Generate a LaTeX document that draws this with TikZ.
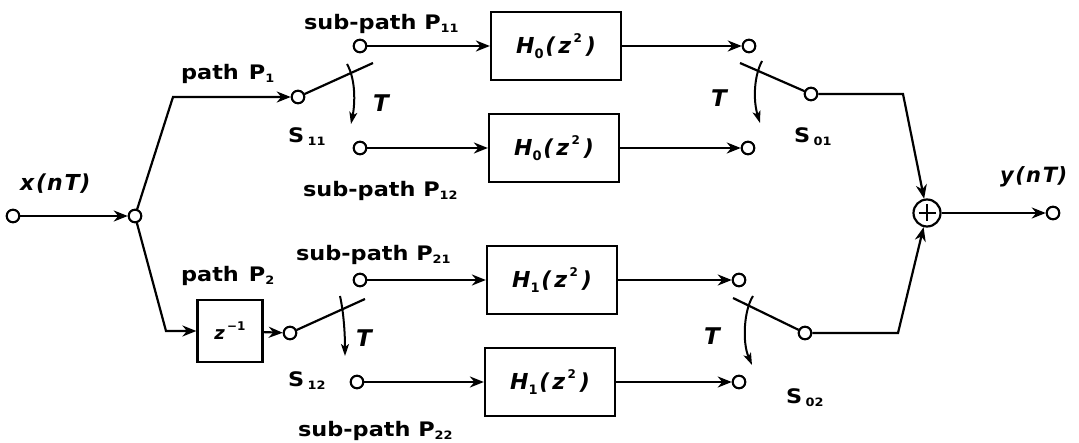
\documentclass[tikz,border=0pt]{standalone}
\usepackage{fontspec}
\usepackage{graphicx}
\newfontfamily\labfont{DejaVu Sans Bold}
\newfontfamily\obl{DejaVu Sans Bold Oblique}
\newfontfamily\upr{DejaVu Sans Bold}
\usetikzlibrary{arrows.meta}

% wide sans labels with small lowered indices
\newcommand{\lbl}[1]{\scalebox{1.12}[1]{\labfont\fontsize{20}{22}\selectfont #1}}
\newcommand{\sbs}[1]{\raisebox{-3pt}{\fontsize{11.5}{11.5}\selectfont #1}}
% oblique formula text
\newcommand{\frm}[2]{{\obl\fontsize{#1}{#1}\selectfont #2}}
\newcommand{\lo}[1]{\raisebox{-0.2em}{\upr\fontsize{13}{13}\selectfont #1}}
\newcommand{\hi}[1]{\raisebox{0.5em}{\upr\fontsize{12}{12}\selectfont #1}}
\newcommand{\hfn}[1]{\frm{22}{H\lo{#1}\hspace{0.08em}(\hspace{0.14em}z\hspace{0.1em}\hi{2}\hspace{0.18em})}}

\begin{document}
\begin{tikzpicture}[x=1pt,y=-1pt,line width=2.2pt,
  term/.style={circle,draw,fill=white,inner sep=0pt,minimum size=12.5pt,line width=2pt},
  blk/.style={draw,minimum width=130pt,minimum height=68pt,inner sep=0pt},
  sig/.style={-{Stealth[length=14pt,width=11pt,inset=4.5pt]}},
  rot/.style={line width=2pt,-{Stealth[length=12pt,width=8pt,inset=3pt]}},
  txt/.style={inner sep=0pt,anchor=base west},
  sumnode/.style={circle,draw,minimum size=27pt,inner sep=0pt}]

\useasboundingbox (0,0) rectangle (1079,443);

% input and branching point
\node[term] (xin) at (13,216) {};
\node[term] (split) at (135,216) {};
\coordinate (k1) at (173,97);
\coordinate (k2) at (166,331);

% delay in the second path
\node[blk,minimum width=65pt,minimum height=62pt] (zd) at (230,331)
  {\frm{18}{z\hspace{0.12em}\raisebox{0.5em}{\upr\fontsize{12}{12}\selectfont −1}}};

% input switches
\node[term] (s11) at (298,97) {};
\node[term] (s12) at (290,333) {};
\coordinate (e11) at (373,63);
\coordinate (e12) at (365,299);

% sub-path terminals
\node[term] (a11) at (360,46) {};
\node[term] (a12) at (360,148) {};
\node[term] (a21) at (360,280) {};
\node[term] (a22) at (357,382) {};

% polyphase filters
\node[blk] (h1) at (556,46) {\hfn{0}};
\node[blk] (h2) at (554,148) {\hfn{0}};
\node[blk] (h3) at (552,280) {\hfn{1}};
\node[blk] (h4) at (550,382) {\hfn{1}};

% output terminals of the sub-paths
\node[term] (b11) at (749,46) {};
\node[term] (b12) at (748,148) {};
\node[term] (b21) at (739,280) {};
\node[term] (b22) at (739,382) {};

% output switches
\node[term] (s01) at (811,94) {};
\node[term] (s02) at (805,333) {};
\coordinate (f01) at (740,63);
\coordinate (f02) at (733,298);

% adder and output
\coordinate (k3) at (903,94);
\coordinate (k4) at (898,333);
\node[sumnode] (sum) at (927,213) {};
\node[term] (yout) at (1053,213) {};

% connections
\draw[sig] (xin) -- (split);
\draw[sig] (split) -- (k1) -- (s11);
\draw[sig] (split) -- (k2) -- (zd);
\draw[sig] (zd) -- (s12);
\draw (s11) -- (e11);
\draw (s12) -- (e12);
\draw[sig] (a11) -- (h1);
\draw[sig] (a12) -- (h2);
\draw[sig] (a21) -- (h3);
\draw[sig] (a22) -- (h4);
\draw[sig] (h1) -- (b11);
\draw[sig] (h2) -- (b12);
\draw[sig] (h3) -- (b21);
\draw[sig] (h4) -- (b22);
\draw (s01) -- (f01);
\draw (s02) -- (f02);
\draw[sig] (s01) -- (k3) -- (sum);
\draw[sig] (s02) -- (k4) -- (sum);
\draw[sig] (sum) -- (yout);
\draw ([yshift=8.5pt]sum.center) -- ([yshift=-8.5pt]sum.center);
\draw ([xshift=-8.5pt]sum.center) -- ([xshift=8.5pt]sum.center);

% switch motion arrows
\draw[rot] (347,64) .. controls (356,80) and (355,104) .. (351,124);
\draw[rot] (340,296) .. controls (344,314) and (345,336) .. (345,356);
\draw[rot] (762,61) .. controls (754,76) and (753,100) .. (760,123);
\draw[rot] (753,296) .. controls (744,310) and (742,342) .. (752,365);

% redraw terminals on top of the wires
\foreach \n in {xin,split,s11,s12,a11,a12,a21,a22,b11,b12,b21,b22,s01,s02,yout}
  \node[term] at (\n) {};

% labels
\node[txt] (lx) at (19,191) {\frm{22}{x\hspace{0.08em}(\hspace{0.05em}n\hspace{0.08em}T\hspace{0.03em})}};
\node[txt] (ly) at (999,183) {\frm{21}{y\hspace{0.08em}(\hspace{0.05em}n\hspace{0.08em}T\hspace{0.03em})}};
\node[txt] (lp1) at (180,80) {\lbl{path\hspace{0.45em}P\sbs{1}}};
\node[txt] (lp2) at (180,282) {\lbl{path\hspace{0.45em}P\sbs{2}}};
\node[txt] (lp11) at (303,30) {\lbl{sub-path P\sbs{11}}};
\node[txt] (lp12) at (302,197) {\lbl{sub-path P\sbs{12}}};
\node[txt] (lp21) at (295,261) {\lbl{sub-path P\sbs{21}}};
\node[txt] (lp22) at (297,436) {\lbl{sub-path P\sbs{22}}};
\node[txt] (ls11) at (287,143) {\lbl{S\hspace{0.15em}\sbs{11}}};
\node[txt] (ls12) at (287,387) {\lbl{S\hspace{0.15em}\sbs{12}}};
\node[txt] (ls01) at (793,143) {\lbl{S\hspace{0.15em}\sbs{01}}};
\node[txt] (ls02) at (785,403) {\lbl{S\hspace{0.15em}\sbs{02}}};
\node[txt] (t11) at (372,112) {\frm{23}{T}};
\node[txt] (t12) at (355,347) {\frm{23}{T}};
\node[txt] (t01) at (710,107) {\frm{23}{T}};
\node[txt] (t02) at (703,345) {\frm{23}{T}};
\end{tikzpicture}
\end{document}
